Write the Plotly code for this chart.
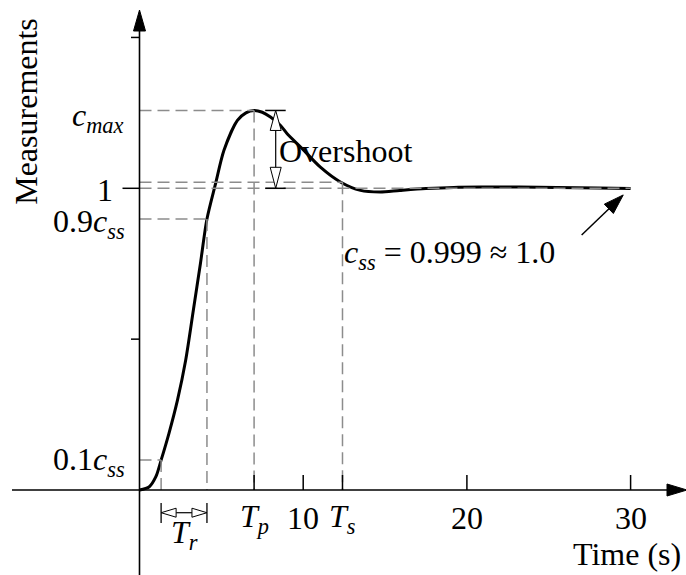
import math
import plotly.graph_objects as go

# ---------------- data ----------------
time_s = [0, 0.6, 1.0, 1.32, 1.8, 2.32, 2.82, 3.3, 3.72, 4.12, 4.65, 5.16, 5.98, 6.5,
          7.0, 7.5, 8.0, 8.6, 9.02, 9.84, 11.05, 12.27, 13.5, 14.7, 15.9, 17.5, 19.2,
          21.0, 23.2, 25.5, 28.0, 30.0]
response = [0, 0.011, 0.044, 0.099, 0.188, 0.298, 0.43, 0.60, 0.75, 0.898, 1.016, 1.126,
            1.225, 1.250, 1.258, 1.252, 1.236, 1.209, 1.181, 1.137, 1.07, 1.021, 0.993,
            0.988, 0.993, 0.999, 1.003, 1.004, 1.004, 1.003, 1.001, 0.999]

c_max = 1.258
c_ss = 0.999
band_hi = 1.02
y_10 = 0.0994
y_90 = 0.898
t_p = 7.0
t_s = 12.4
t_r_start = 1.32
t_r_end = 4.12
x_ticks = [10, 20, 30]
x_tick_labels = ["10", "20", "30"]
y_minor_ticks = [0.5, 1.5]

# ---------------- geometry helpers ----------------
W, H = 686, 575
x_range = [-8.522, 33.384]
y_range = [-0.2817, 1.6241]
SX = W / (x_range[1] - x_range[0])   # px per time unit
SY = H / (y_range[1] - y_range[0])   # px per y unit


def dx(p):
    return p / SX


def dy(p):
    return p / SY


FONT = "Liberation Serif"
FS = 32
GRAY = "#8c8c8c"
shapes = []
annotations = []


def line(x0, y0, x1, y1, color="black", width=1.5, dash=None):
    ln = dict(color=color, width=width)
    if dash:
        ln["dash"] = dash
    shapes.append(dict(type="line", xref="x", yref="y", x0=x0, y0=y0, x1=x1, y1=y1,
                       line=ln, layer="above"))


def dashed(x0, y0, x1, y1):
    line(x0, y0, x1, y1, color=GRAY, width=1.5, dash="12px,6px")


def tri(tx, ty, ux, uy, length, width, fill):
    """triangle with apex at (tx,ty), pointing along pixel direction (ux,uy) (y down)."""
    n = math.hypot(ux, uy)
    ux, uy = ux / n, uy / n
    bx, by = -ux * length, -uy * length
    px_, py_ = -uy * width / 2, ux * width / 2
    pts = [(0, 0), (bx + px_, by + py_), (bx - px_, by - py_)]
    d = "M " + " L ".join(f"{tx + dx(a)},{ty - dy(b)}" for a, b in pts) + " Z"
    shapes.append(dict(type="path", xref="x", yref="y", path=d, fillcolor=fill,
                       line=dict(color="black", width=1), layer="above"))


def text(x, y, s, xanchor="center", yanchor="middle", size=FS, angle=0):
    annotations.append(dict(x=x, y=y, xref="x", yref="y", text=s, showarrow=False,
                            xanchor=xanchor, yanchor=yanchor, textangle=angle,
                            borderpad=0,
                            font=dict(family=FONT, size=size, color="black")))


# ---------------- guide lines ----------------
dashed(0, c_max, t_p, c_max)
dashed(t_p, c_max, t_p, 0)
dashed(0, y_90, t_r_end, y_90)
dashed(t_r_end, y_90, t_r_end, 0)
dashed(0, y_10, t_r_start, y_10)
dashed(t_r_start, y_10, t_r_start, 0)
dashed(0, band_hi, t_s, band_hi)
dashed(t_s, band_hi, t_s, 0)
dashed(0, 1.0, time_s[-1], 1.0)

# ---------------- axes ----------------
x_left = x_range[0] + dx(12)
x_tip = x_range[1] + dx(1)
line(x_left, 0, x_tip - dx(18), 0, width=1.6)
tri(x_tip, 0, 1, 0, 20, 12, "black")
y_tip = y_range[1] - dy(10)
line(0, y_range[0], 0, y_tip - dy(18), width=1.6)
tri(0, y_tip, 0, -1, 21, 12, "black")

for t in x_ticks + [t_p, t_s]:
    line(t, 0, t, dy(15), width=1.5)
for yv in y_minor_ticks:
    line(-dx(8.5), yv, 0, yv, width=1.5)
line(-dx(17), 1.0, 0, 1.0, width=1.5)

# ---------------- overshoot marker ----------------
t_ov = 8.32
line(t_ov - dx(10.5), c_max, t_ov + dx(10), c_max, width=1.5)
line(t_ov - dx(10.5), 1.0, t_ov + dx(10), 1.0, width=1.5)
line(t_ov, 1.0 + dy(20), t_ov, c_max - dy(20), width=1.2)
tri(t_ov, c_max, 0, -1, 20, 11, "white")
tri(t_ov, 1.0, 0, 1, 21, 11, "white")

# ---------------- rise-time marker ----------------
y_tr = -dy(22.7)
line(t_r_start, -dy(13), t_r_start, -dy(33), width=1.3)
line(t_r_end, -dy(13), t_r_end, -dy(33), width=1.3)
line(t_r_start + dx(15), y_tr, t_r_end - dx(15), y_tr, width=1.2)
tri(t_r_start, y_tr, -1, 0, 15, 9, "white")
tri(t_r_end, y_tr, 1, 0, 15, 9, "white")

# ---------------- c_ss arrow ----------------
tip_t, tip_y = 29.55, 0.978
tail_t, tail_y = 27.01, 0.845
vx, vy = (tip_t - tail_t) * SX, -(tip_y - tail_y) * SY
nrm = math.hypot(vx, vy)
line(tail_t, tail_y, tip_t - dx(vx / nrm * 18), tip_y + dy(vy / nrm * 18), width=1.5)
tri(tip_t, tip_y, vx, vy, 20, 13, "black")

# ---------------- texts ----------------
text(-6.95, 1.256, "Measurements", angle=-90)
text(29.78, -0.212, "Time (s)")
for t, lab in zip(x_ticks, x_tick_labels):
    text(t, -0.094, lab)
text(t_p, -0.094, "<i>T</i><sub><i>p</i></sub>")
text(t_s, -0.094, "<i>T</i><sub><i>s</i></sub>")
text((t_r_start + t_r_end) / 2, -0.148, "<i>T</i><sub><i>r</i></sub>")

text(-dx(15), c_max - 0.022, "<i>c</i><sub><i>max</i></sub>", xanchor="right")
text(-dx(26), 1.0 - 0.006, "1", xanchor="right")
text(-dx(14), y_90 - 0.014, "0.9<i>c</i><sub><i>ss</i></sub>", xanchor="right")
text(-dx(14), y_10 - 0.006, "0.1<i>c</i><sub><i>ss</i></sub>", xanchor="right")
text(8.45, 1.125, "Overshoot", xanchor="left")
text(12.45, 0.78, "<i>c</i><sub><i>ss</i></sub> = 0.999 ≈ 1.0", xanchor="left")

# ---------------- figure ----------------
fig = go.Figure()
fig.add_trace(go.Scatter(x=time_s, y=response, mode="lines",
                         line=dict(color="black", width=3, shape="spline", smoothing=0.8),
                         hoverinfo="skip", showlegend=False))
fig.update_layout(
    width=W, height=H, margin=dict(l=0, r=0, t=0, b=0),
    paper_bgcolor="white", plot_bgcolor="white",
    xaxis=dict(range=x_range, visible=False, fixedrange=True),
    yaxis=dict(range=y_range, visible=False, fixedrange=True),
    shapes=shapes, annotations=annotations, showlegend=False,
)
fig.write_html("out.html")
